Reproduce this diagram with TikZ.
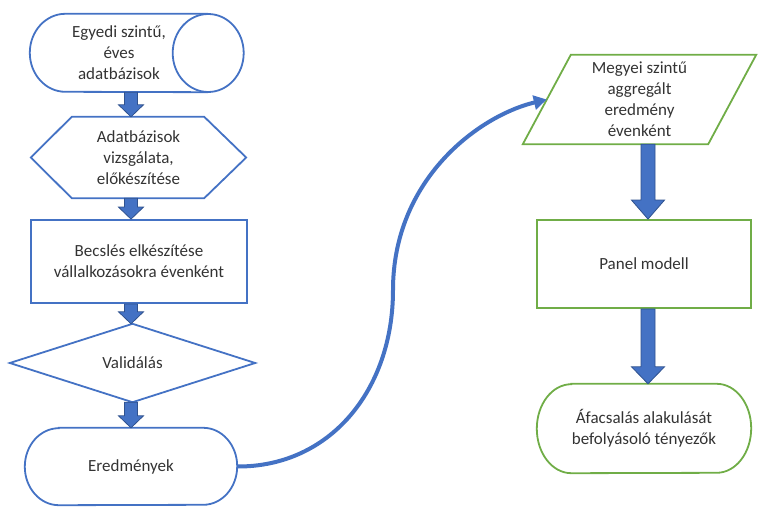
\documentclass[tikz,border=0pt]{standalone}
\usepackage{fontspec}
\setmainfont{Carlito}
\usetikzlibrary{calc,arrows.meta}
\definecolor{oblue}{HTML}{4472C4}
\definecolor{ogreen}{HTML}{70AD47}
\definecolor{odark}{HTML}{2F528F}
\definecolor{otext}{HTML}{333333}
\tikzset{
  box/.style={draw=none, inner sep=0pt, align=center, text=otext,
    font=\fontsize{17}{21}\selectfont},
  blueline/.style={draw=oblue, line width=1.8pt},
  greenline/.style={draw=ogreen, line width=1.8pt},
  barrow/.style={fill=oblue, draw=odark, line width=0.8pt},
  conn/.style={draw=oblue, line width=4pt, -{Triangle[length=13pt,width=14pt]}}
}
% #1 x, #2 start anchor, #3 end anchor, #4 shaft half width, #5 head half width, #6 head length
\newcommand\blockarr[6]{%
  \path[barrow] let \p1=(#2), \p2=(#3) in
    (#1-#4,\y1) -- (#1-#4,\y2+#6) -- (#1-#5,\y2+#6) -- (#1,\y2) --
    (#1+#5,\y2+#6) -- (#1+#4,\y2+#6) -- (#1+#4,\y1) -- cycle;}
\begin{document}
\begin{tikzpicture}[x=1pt,y=1pt]
\useasboundingbox (0,0) rectangle (758,507);

% left column
\node[box, minimum width=178pt, minimum height=78pt] (cyl) at (119,454)
  {Egyedi szintű,\\éves\\adatbázisok};
\draw[blueline] (cyl.north east) -- ([xshift=35.5pt]cyl.north west)
  arc[start angle=90, end angle=270, x radius=35.5pt, y radius=39pt]
  -- (cyl.south east);
\draw[blueline] (cyl.east) ellipse [x radius=35.5pt, y radius=39pt];

\node[box, minimum width=215pt, minimum height=81pt] (hex) at (138.5,349.5)
  {Adatbázisok\\vizsgálata,\\előkészítése};
\draw[blueline] (hex.west) -- ([xshift=41pt]hex.north west)
  -- ([xshift=-42pt]hex.north east) -- (hex.east)
  -- ([xshift=-42pt]hex.south east) -- ([xshift=41pt]hex.south west) -- cycle;

\node[box, blueline, minimum width=216pt, minimum height=83pt] (est) at (139,245.5)
  {Becslés elkészítése\\vállalkozásokra évenként};

\node[box, minimum width=245pt, minimum height=78pt] (dia) at (132.5,144)
  {Validálás};
\draw[blueline] (dia.west) -- (dia.north) -- (dia.east) -- (dia.south) -- cycle;

\node[box, minimum width=212pt, minimum height=77pt] (erg) at (131,40.5)
  {Eredmények};
\draw[blueline] ([xshift=34pt]erg.north west) -- ([xshift=-34pt]erg.north east)
  arc[start angle=90, end angle=-90, x radius=34pt, y radius=38.5pt]
  -- ([xshift=34pt]erg.south west)
  arc[start angle=270, end angle=90, x radius=34pt, y radius=38.5pt] -- cycle;

% right column
\node[box, minimum width=233pt, minimum height=89pt] (par) at (639.5,407.5)
  {Megyei szintű\\aggregált\\eredmény\\évenként};
\draw[greenline] ([xshift=48pt]par.north west) -- (par.north east)
  -- ([xshift=-48pt]par.south east) -- (par.south west) -- cycle;

\node[box, greenline, minimum width=214pt, minimum height=88pt] (pan) at (644,243)
  {Panel modell};

\node[box, minimum width=214pt, minimum height=89pt] (fac) at (644,78.5)
  {Áfacsalás alakulását\\befolyásoló tényezők};
\draw[greenline] ([xshift=34.5pt]fac.north west) -- ([xshift=-34.5pt]fac.north east)
  arc[start angle=90, end angle=-90, x radius=34.5pt, y radius=44.5pt]
  -- ([xshift=34.5pt]fac.south west)
  arc[start angle=270, end angle=90, x radius=34.5pt, y radius=44.5pt] -- cycle;

% block arrows
\blockarr{131pt}{cyl.south}{hex.north}{6.5pt}{12.5pt}{12pt}
\blockarr{131pt}{hex.south}{est.north}{6.5pt}{12.5pt}{12pt}
\blockarr{131pt}{est.south}{dia.north}{6.5pt}{12.5pt}{12pt}
\blockarr{131pt}{dia.south}{erg.north}{6.5pt}{12.5pt}{12pt}
\blockarr{648pt}{par.south}{pan.north}{7pt}{16.5pt}{19pt}
\blockarr{648pt}{pan.south}{fac.north}{7pt}{16.5pt}{17pt}

% curved connector
\draw[conn] (erg.east) .. controls (330,40) and (393,117) .. (393,217)
  .. controls (393,327) and (478,391) .. ([xshift=24pt]par.west);
\end{tikzpicture}
\end{document}
